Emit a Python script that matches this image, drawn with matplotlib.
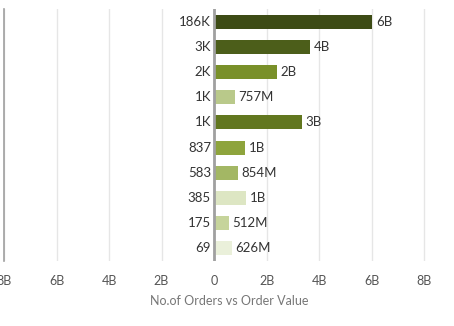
import matplotlib.pyplot as plt
from matplotlib.ticker import FuncFormatter

order_counts = ["186K", "3K", "2K", "1K", "1K", "837", "583", "385", "175", "69"]
order_values = [5.98e9, 3.62e9, 2.36e9, 0.757e9, 3.30e9, 1.14e9, 0.854e9, 1.17e9, 0.512e9, 0.626e9]
value_labels = ["6B", "4B", "2B", "757M", "3B", "1B", "854M", "1B", "512M", "626M"]
bar_colors = ["#3d4b15", "#4c5e1a", "#799029", "#b9c98a", "#62771f",
              "#8ea43c", "#a3b764", "#dde6c3", "#c6d49b", "#eaf0da"]
xticks = [-8e9, -6e9, -4e9, -2e9, 0, 2e9, 4e9, 6e9, 8e9]

plt.rcParams["font.family"] = ["Lato", "DejaVu Sans"]

fig = plt.figure(figsize=(4.54, 3.26), dpi=100)
ax = fig.add_axes([4 / 454, 1 - 261 / 326, 450 / 454, 252 / 326])

y = list(range(len(order_counts)))
ax.barh(y, order_values, height=0.56, color=bar_colors, left=0.04e9, zorder=2)

for i in y:
    ax.text(-0.12e9, i, order_counts[i], ha="right", va="center", fontsize=9.5, color="#333333")
    ax.text(order_values[i] + 0.18e9, i, value_labels[i], ha="left", va="center",
            fontsize=9.5, color="#333333")

ax.set_xlim(-8e9, 9.14e9)
ax.set_ylim(len(order_counts) - 0.5, -0.5)
ax.set_xticks(xticks)
ax.xaxis.set_major_formatter(FuncFormatter(lambda v, p: "0" if v == 0 else f"{abs(v) / 1e9:.0f}B"))
ax.tick_params(axis="x", length=0, labelsize=9, labelcolor="#555555", pad=10)
ax.set_yticks([])
ax.grid(axis="x", color="#e6e6e6", linewidth=1, zorder=0)
ax.axvline(0, color="#a0a0a0", linewidth=2, zorder=3)

for side in ["top", "right", "bottom"]:
    ax.spines[side].set_visible(False)
ax.spines["left"].set_color("#a0a0a0")
ax.spines["left"].set_linewidth(1.2)

ax.set_xlabel("No.of Orders vs Order Value", fontsize=9, color="#777777", labelpad=6)

fig.savefig("out.png", dpi=100)
